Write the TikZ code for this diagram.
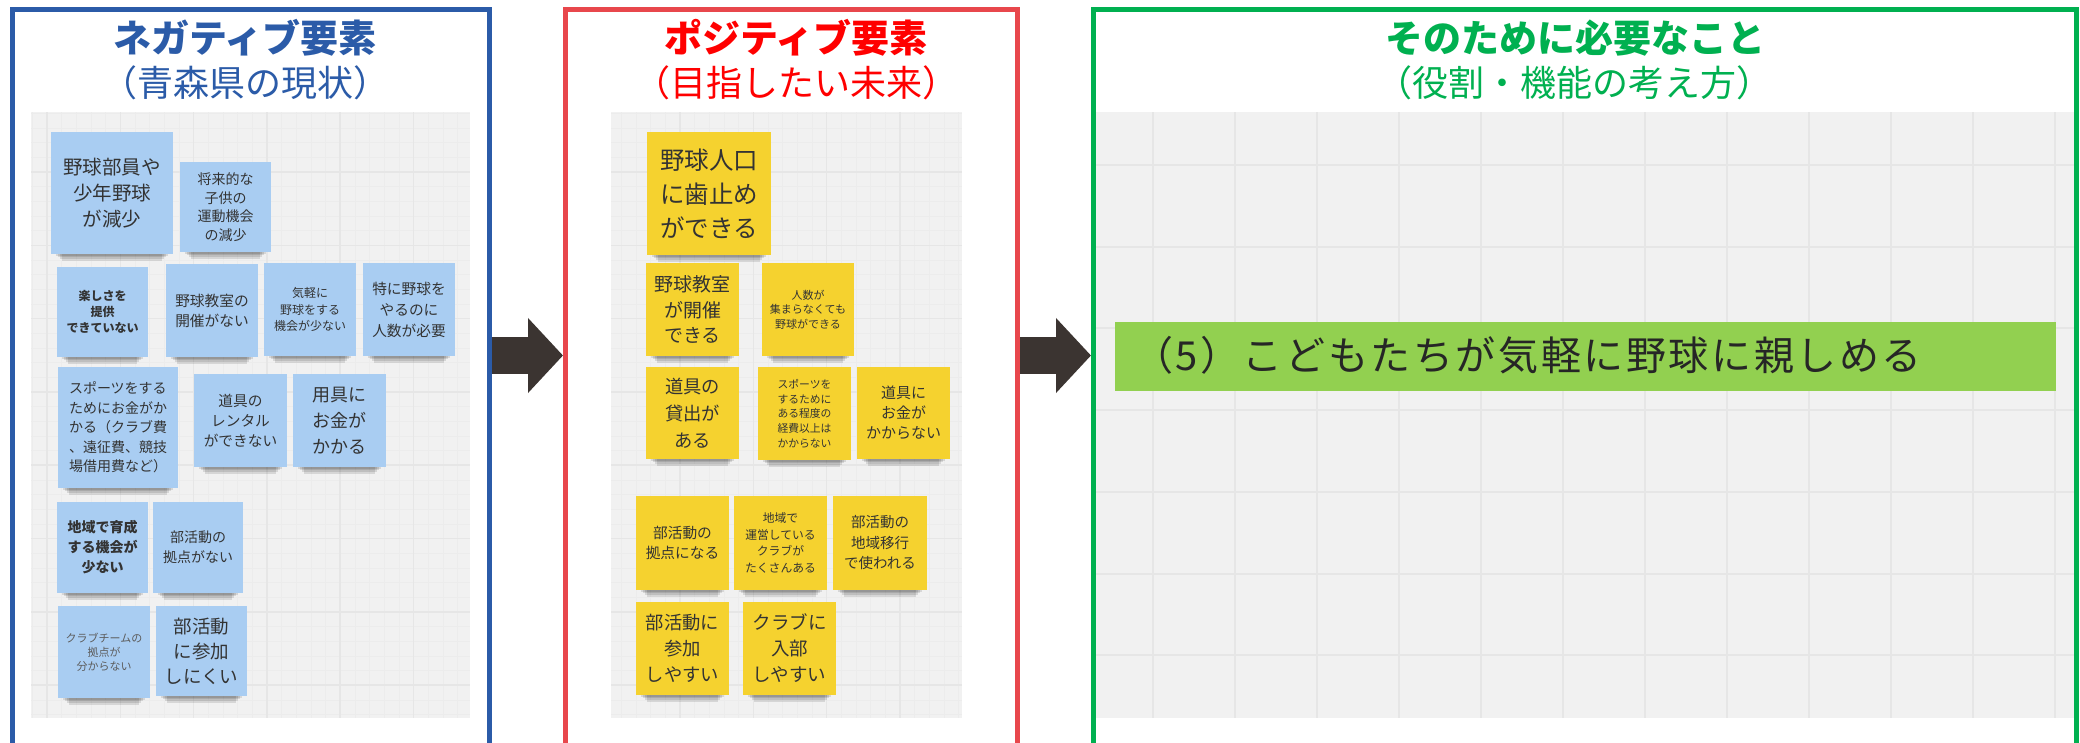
\documentclass[tikz,border=0pt]{standalone}
\usepackage{fontspec}
\setmainfont{Noto Sans CJK JP}
\newfontfamily\goalfont[LetterSpace=6.5]{Noto Sans CJK JP}
\usetikzlibrary{arrows.meta}
\definecolor{fblue}{HTML}{2B5BA8}
\definecolor{fred}{HTML}{E8474C}
\definecolor{fgreen}{HTML}{00B050}
\definecolor{tred}{HTML}{FF0000}
\definecolor{arrowc}{HTML}{3B3431}
\definecolor{gbg}{HTML}{F1F1F1}
\definecolor{gmaj}{HTML}{E6E6E6}
\definecolor{gmin}{HTML}{ECECEC}
\definecolor{nblue}{HTML}{A9CDF2}
\definecolor{nyellow}{HTML}{F5D22F}
\definecolor{ntext}{HTML}{333333}
\definecolor{barc}{HTML}{92D050}
\newcommand\sticky[7]{%
  \foreach \k in {1,...,4}{\fill[black,opacity=.11] ({#2+3+2*\k},{#5-2}) rectangle ({#4-3-2*\k},{#5+1.7*\k});}%
  \pgfmathsetmacro\nw{#4-#2}\pgfmathsetmacro\nh{#5-#3}%
  \node[#6, minimum width=\nw pt, minimum height=\nh pt] (#1) at ({(#2+#4)/2},{(#3+#5)/2}) {#7};}
\begin{document}
\begin{tikzpicture}[x=1pt,y=-1pt,
  frame/.style={draw, line width=5pt, inner sep=0pt},
  ttl/.style={font=\bfseries\fontsize{38}{42}\selectfont, anchor=base},
  sttl/.style={font=\fontsize{36}{40}\selectfont, anchor=base},
  bnote/.style={fill=nblue, inner sep=0pt, text=ntext, align=center},
  ynote/.style={fill=nyellow, inner sep=0pt, text=ntext, align=center},
  gmajor/.style={draw=gmaj, line width=1.5pt},
  gminor/.style={draw=gmin, line width=0.5pt},
  bigarrow/.style={draw=arrowc, line width=37pt, -{Triangle[length=35pt,width=73pt]}},
  fs/.style 2 args={font=\fontsize{#1}{#2}\selectfont},
  fb/.style 2 args={font=\bfseries\fontsize{#1}{#2}\selectfont}]
\useasboundingbox (0,0) rectangle (2080,742);
\clip (0,0) rectangle (2080,742);
\fill[white] (0,0) rectangle (2080,742);

% ---------- grids ----------
\begin{scope}
\clip (31,112) rectangle (470,718);
\fill[gbg] (31,112) rectangle (470,718);
\foreach \x in {32.34,47,...,470} \draw[gminor] (\x,112) -- (\x,718);
\foreach \y in {113.4,128.06,...,718} \draw[gminor] (31,\y) -- (470,\y);
\foreach \x in {47,120.3,...,470} \draw[gmajor] (\x,112) -- (\x,718);
\foreach \y in {172,245.3,...,718} \draw[gmajor] (31,\y) -- (470,\y);
\end{scope}
\begin{scope}
\clip (611,112) rectangle (962,718);
\fill[gbg] (611,112) rectangle (962,718);
\foreach \x in {606.7,621.36,...,962} \draw[gminor] (\x,112) -- (\x,718);
\foreach \y in {113.4,128.06,...,718} \draw[gminor] (611,\y) -- (962,\y);
\foreach \x in {680,753.3,...,962} \draw[gmajor] (\x,112) -- (\x,718);
\foreach \y in {172,245.3,...,718} \draw[gmajor] (611,\y) -- (962,\y);
\end{scope}
\begin{scope}
\clip (1096,112) rectangle (2074,718);
\fill[gbg] (1096,112) rectangle (2074,718);
\foreach \x in {1153,1235,...,2074} \draw[gmajor,line width=2pt] (\x,112) -- (\x,718);
\foreach \y in {165,246.7,...,718} \draw[gmajor,line width=2pt] (1096,\y) -- (2074,\y);
\end{scope}

% ---------- frames ----------
\node[frame, draw=fblue, minimum width=477pt, minimum height=750pt] (pneg) at (251,384.5) {};
\node[frame, draw=fred, minimum width=452pt, minimum height=750pt] (ppos) at (791.5,384.5) {};
\node[frame, draw=fgreen, minimum width=982.5pt, minimum height=750pt] (pneed) at (1584.75,384.5) {};

% ---------- titles ----------
\node[ttl, text=fblue] (tneg) at (245,52) {ネガティブ要素};
\node[sttl, text=fblue] (sneg) at (245,96) {（青森県の現状）};
\node[ttl, text=tred] (tpos) at (796,52) {ポジティブ要素};
\node[sttl, text=tred] (spos) at (796,96) {（目指したい未来）};
\node[ttl, text=fgreen] (tneed) at (1575,52) {そのために必要なこと};
\node[sttl, text=fgreen] (sneed) at (1574,96) {（役割・機能の考え方）};

% ---------- arrows ----------
\coordinate (ay) at (0,355.5);
\draw[bigarrow] (pneg.east |- ay) -- (ppos.west |- ay);
\draw[bigarrow] (ppos.east |- ay) -- (pneed.west |- ay);

% ---------- blue notes ----------
\sticky{n1}{51}{132}{173}{254}{bnote,fs={19.5}{26}}{野球部員や\\少年野球\\が減少}
\sticky{n2}{180}{162}{271}{252}{bnote,fs={14}{18.5}}{将来的な\\子供の\\運動機会\\の減少}
\sticky{n3}{57}{267}{148}{357}{bnote,fb={12}{16}}{楽しさを\\提供\\できていない}
\sticky{n4}{166}{264}{258}{357}{bnote,fs={14.7}{20}}{野球教室の\\開催がない}
\sticky{n5}{264}{263}{356}{356}{bnote,fs={12}{16.7}}{気軽に\\野球をする\\機会が少ない}
\sticky{n6}{363}{263}{455}{356}{bnote,fs={14.7}{21}}{特に野球を\\やるのに\\人数が必要}
\sticky{n7}{58}{367}{178}{488}{bnote,fs={14}{19.5},align=left}{スポーツをする\\ためにお金がか\\かる（クラブ費\\、遠征費、競技\\場借用費など）}
\sticky{n8}{194}{374}{287}{467}{bnote,fs={14.7}{20}}{道具の\\レンタル\\ができない}
\sticky{n9}{293}{374}{386}{467}{bnote,fs={18}{26}}{用具に\\お金が\\かかる}
\sticky{n10}{57}{502}{148}{593}{bnote,fb={14}{20}}{地域で育成\\する機会が\\少ない}
\sticky{n11}{153}{502}{243}{593}{bnote,fs={14}{20}}{部活動の\\拠点がない}
\sticky{n12}{58}{606}{150}{698}{bnote,fs={11}{14},text=ntext!80}{クラブチームの\\拠点が\\分からない}
\sticky{n13}{156}{606}{247}{696}{bnote,fs={18.5}{25}}{部活動\\に参加\\しにくい}

% ---------- yellow notes ----------
\sticky{y1}{647}{132}{771}{255}{ynote,fs={24.5}{34}}{野球人口\\に歯止め\\ができる}
\sticky{y2}{646}{263}{739}{356}{ynote,fs={19}{25.5}}{野球教室\\が開催\\できる}
\sticky{y3}{762}{263}{854}{356}{ynote,fs={11}{14.7}}{人数が\\集まらなくても\\野球ができる}
\sticky{y4}{646}{367}{739}{459}{ynote,fs={18.3}{27}}{道具の\\貸出が\\ある}
\sticky{y5}{758}{367}{851}{460}{ynote,fs={10.8}{14.7}}{スポーツを\\するために\\ある程度の\\経費以上は\\かからない}
\sticky{y6}{857}{367}{950}{459}{ynote,fs={15}{20}}{道具に\\お金が\\かからない}
\sticky{y7}{636}{496}{729}{590}{ynote,fs={14.7}{20}}{部活動の\\拠点になる}
\sticky{y8}{734}{496}{827}{590}{ynote,fs={11.8}{16.7}}{地域で\\運営している\\クラブが\\たくさんある}
\sticky{y9}{833}{496}{927}{590}{ynote,fs={14.5}{20.5}}{部活動の\\地域移行\\で使われる}
\sticky{y10}{636}{602}{729}{695}{ynote,fs={18.3}{26}}{部活動に\\参加\\しやすい}
\sticky{y11}{743}{602}{836}{695}{ynote,fs={18.5}{26}}{クラブに\\入部\\しやすい}

% ---------- goal bar ----------
\node[fill=barc, minimum width=941pt, minimum height=69pt, inner sep=0pt] (gbar) at (1585.5,356.5) {};
\node[anchor=base west, font=\goalfont\fontsize{40}{44}\selectfont, text=black!85, inner sep=0pt] (gtext) at ([xshift=18pt]gbar.west |- 0,370) {（5）こどもたちが気軽に野球に親しめる};
\end{tikzpicture}
\end{document}
